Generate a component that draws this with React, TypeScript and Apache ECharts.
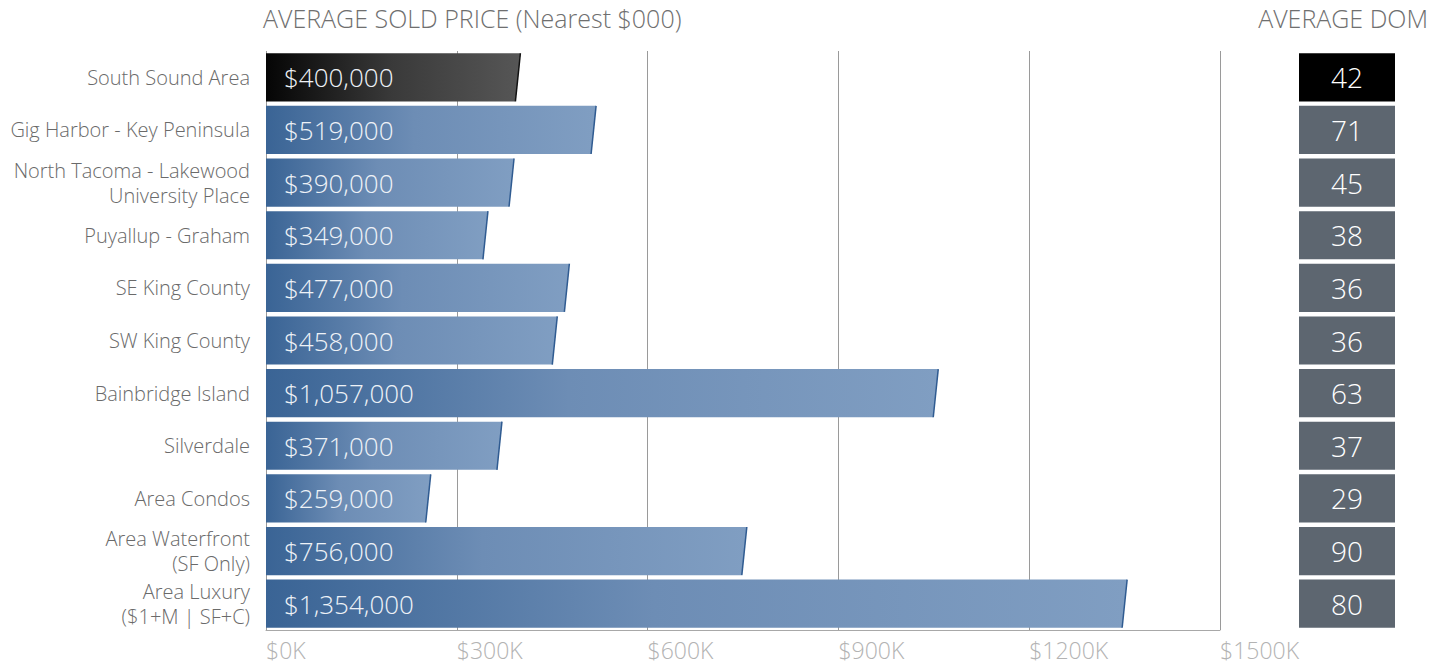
import React, { useEffect, useRef } from "react";
import * as echarts from "echarts";

const categories = [
  "South Sound Area",
  "Gig Harbor - Key Peninsula",
  "North Tacoma - Lakewood\nUniversity Place",
  "Puyallup - Graham",
  "SE King County",
  "SW King County",
  "Bainbridge Island",
  "Silverdale",
  "Area Condos",
  "Area Waterfront\n(SF Only)",
  "Area Luxury\n($1+M | SF+C)",
];
const avgPriceK = [400, 519, 390, 349, 477, 458, 1057, 371, 259, 756, 1354];
const avgDom = [42, 71, 45, 38, 36, 36, 63, 37, 29, 90, 80];
const xTicks = [0, 300, 600, 900, 1200, 1500];

const FONT = "'Open Sans', 'Helvetica Neue', Arial, sans-serif";

export default function App() {
  const ref = useRef<HTMLDivElement>(null);
  useEffect(() => {
    if (!ref.current) return;
    const chart = echarts.init(ref.current, undefined, { renderer: "svg" });
    const priceData = avgPriceK.map((v, i) => [v, i]);
    const domData = avgDom.map((v, i) => [1, i, v]);
    chart.setOption({
      animation: false,
      backgroundColor: "#ffffff",
      graphic: [
        {
          type: "text",
          left: 263,
          top: 5,
          style: {
            text: "AVERAGE SOLD PRICE (Nearest $000)",
            fill: "#6f6f6f",
            fontSize: 25,
            fontWeight: 300,
            fontFamily: FONT,
          },
        },
        {
          type: "text",
          right: 18,
          top: 5,
          style: {
            text: "AVERAGE DOM",
            fill: "#6f6f6f",
            fontSize: 25,
            fontWeight: 300,
            fontFamily: FONT,
          },
        },
      ],
      grid: [
        { left: 266, right: 226, top: 51, bottom: 38, containLabel: false },
        { left: 1299, width: 96, top: 51, bottom: 38, containLabel: false },
      ],
      xAxis: [
        {
          type: "value",
          gridIndex: 0,
          min: 0,
          max: 1500,
          interval: 300,
          axisLine: { show: true, lineStyle: { color: "#a8a8a8", width: 1 } },
          axisTick: { show: false },
          splitLine: { show: true, lineStyle: { color: "#9a9a9a", width: 1 } },
          axisLabel: {
            formatter: (v: number) => (xTicks.includes(v) ? "$" + v + "K" : ""),
            align: "left",
            color: "#b3b3b3",
            fontSize: 23,
            fontWeight: 300,
            fontFamily: FONT,
            margin: 8,
          },
        },
        {
          type: "value",
          gridIndex: 1,
          min: 0,
          max: 1,
          show: false,
        },
      ],
      yAxis: [
        {
          type: "category",
          gridIndex: 0,
          inverse: true,
          data: categories,
          axisLine: { show: false },
          axisTick: { show: false },
          axisLabel: {
            color: "#6a6a6a",
            fontSize: 20,
            fontWeight: 300,
            fontFamily: FONT,
            lineHeight: 25,
            margin: 16,
            align: "right",
          },
        },
        {
          type: "category",
          gridIndex: 1,
          inverse: true,
          data: categories,
          show: false,
        },
      ],
      series: [
        {
          type: "custom",
          xAxisIndex: 0,
          yAxisIndex: 0,
          encode: { x: 0, y: 1 },
          data: priceData,
          renderItem: (params: any, api: any) => {
            const v = api.value(0);
            const idx = api.value(1);
            const start = api.coord([0, idx]);
            const end = api.coord([v, idx]);
            const h = api.size([0, 1])[1] * 0.915;
            const y0 = end[1] - h / 2;
            const y1 = end[1] + h / 2;
            const slant = 5;
            const first = params.dataIndex === 0;
            const fill = first
              ? new echarts.graphic.LinearGradient(0, 0, 1, 0, [
                  { offset: 0, color: "#050505" },
                  { offset: 0.5, color: "#3a3a3a" },
                  { offset: 1, color: "#565656" },
                ])
              : new echarts.graphic.LinearGradient(0, 0, 1, 0, [
                  { offset: 0, color: "#3a6495" },
                  { offset: 0.45, color: "#6d8db5" },
                  { offset: 1, color: "#809ec2" },
                ]);
            return {
              type: "group",
              children: [
                {
                  type: "polygon",
                  shape: {
                    points: [
                      [start[0], y0],
                      [end[0], y0],
                      [end[0] - slant, y1],
                      [start[0], y1],
                    ],
                  },
                  style: { fill },
                },
                {
                  type: "line",
                  shape: { x1: end[0], y1: y0, x2: end[0] - slant, y2: y1 },
                  style: { stroke: first ? "#111" : "#2f5b91", lineWidth: 1.5 },
                },
                {
                  type: "text",
                  x: start[0] + 18,
                  y: end[1],
                  style: {
                    text: "$" + (v * 1000).toLocaleString("en-US"),
                    fill: "#eef2f7",
                    fontSize: 26,
                    fontWeight: 300,
                    fontFamily: FONT,
                    align: "left",
                    verticalAlign: "middle",
                  },
                },
              ],
            };
          },
        },
        {
          type: "custom",
          xAxisIndex: 1,
          yAxisIndex: 1,
          encode: { x: 0, y: 1 },
          data: domData,
          renderItem: (params: any, api: any) => {
            const idx = api.value(1);
            const d = api.value(2);
            const a = api.coord([0, idx]);
            const b = api.coord([1, idx]);
            const h = api.size([0, 1])[1] * 0.915;
            return {
              type: "group",
              children: [
                {
                  type: "rect",
                  shape: { x: a[0], y: a[1] - h / 2, width: b[0] - a[0], height: h },
                  style: { fill: params.dataIndex === 0 ? "#000000" : "#5d6670" },
                },
                {
                  type: "text",
                  x: (a[0] + b[0]) / 2,
                  y: a[1],
                  style: {
                    text: String(d),
                    fill: "#ffffff",
                    fontSize: 28,
                    fontWeight: 300,
                    fontFamily: FONT,
                    align: "center",
                    verticalAlign: "middle",
                  },
                },
              ],
            };
          },
        },
      ],
    });
    return () => chart.dispose();
  }, []);
  return <div ref={ref} style={{ width: 1446, height: 668, position: "absolute", left: 0, top: 0 }} />;
}
